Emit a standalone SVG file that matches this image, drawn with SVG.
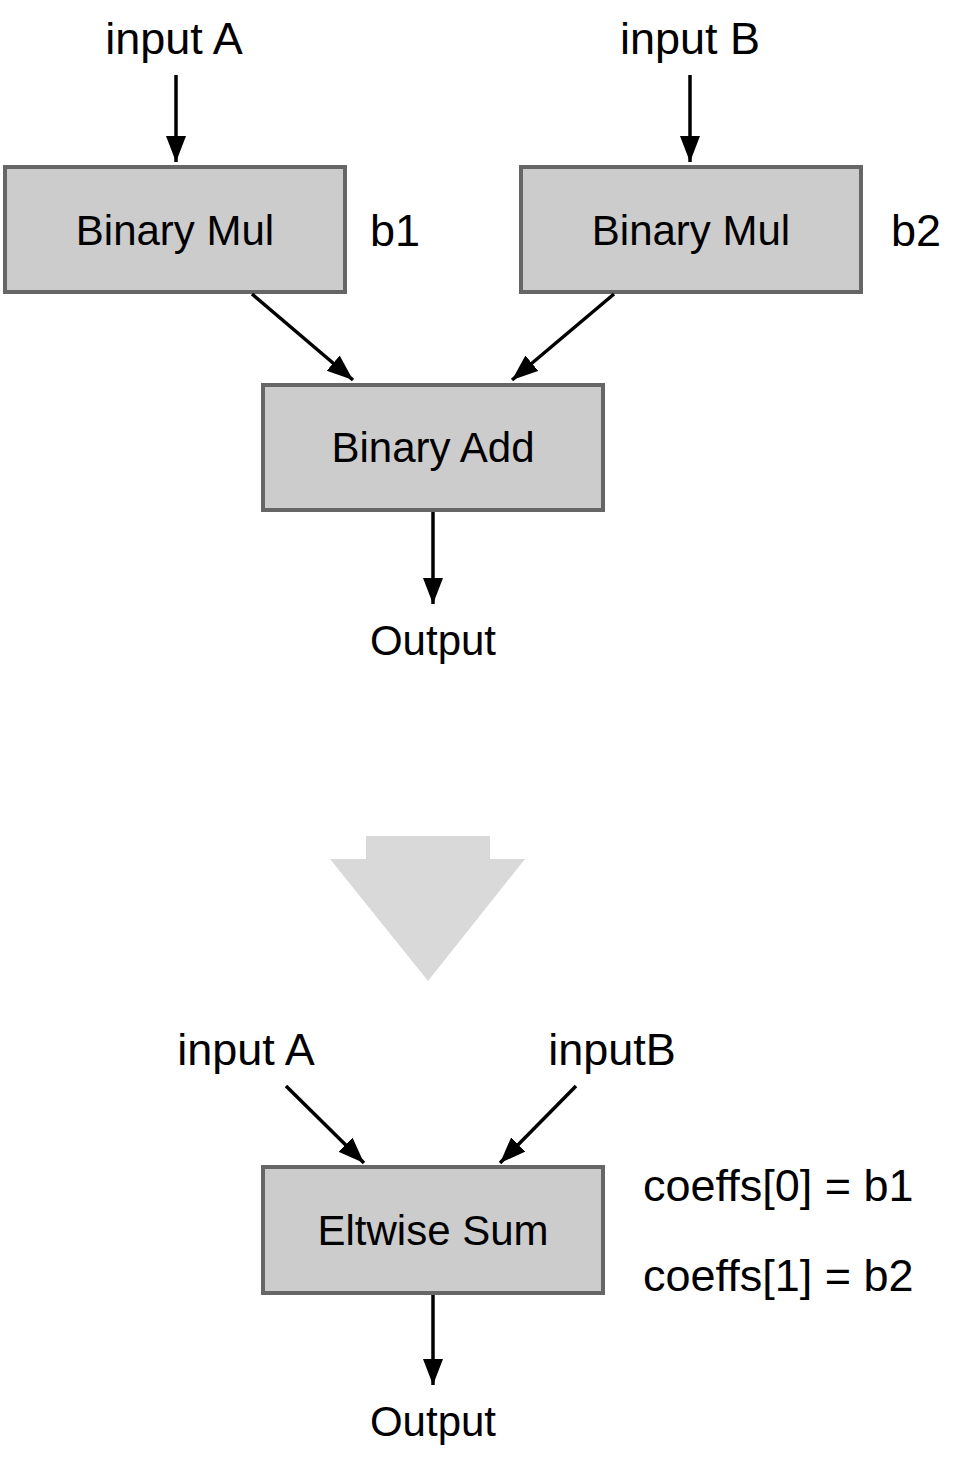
<svg xmlns="http://www.w3.org/2000/svg" width="954" height="1458" viewBox="0 0 954 1458">
<style>
.box{fill:#cccccc;stroke:#666666;stroke-width:4}
.t{font-family:"Liberation Sans",Arial,Helvetica,sans-serif;fill:#000}
.bt{font-size:42px}
.lt{font-size:45px}
.ot{font-size:42px}
.c{stroke:#000;stroke-width:3.5;fill:none;marker-end:url(#ah)}
</style>
<defs>
<marker id="ah" markerUnits="userSpaceOnUse" markerWidth="28" markerHeight="22" refX="26" refY="10" orient="auto">
<path d="M0,0 L26,10 L0,20 Z" fill="#000"/>
</marker>
</defs>
<rect width="954" height="1458" fill="#fff"/>
<g id="labels">
<text class="t lt" x="174" y="54" text-anchor="middle">input A</text>
<text class="t lt" x="690" y="54" text-anchor="middle">input B</text>
<text class="t lt" x="370" y="246">b1</text>
<text class="t lt" x="891" y="246">b2</text>
<text class="t ot" x="433" y="655" text-anchor="middle">Output</text>
<text class="t lt" x="246" y="1065" text-anchor="middle">input A</text>
<text class="t lt" x="612" y="1065" text-anchor="middle">inputB</text>
<text class="t lt" x="643" y="1201">coeffs[0] = b1</text>
<text class="t lt" x="643" y="1291">coeffs[1] = b2</text>
<text class="t ot" x="433" y="1436" text-anchor="middle">Output</text>
</g>
<g id="mul1">
<rect class="box" x="5" y="167" width="340" height="125"/>
<text class="t bt" x="175" y="245" text-anchor="middle">Binary Mul</text>
</g>
<g id="mul2">
<rect class="box" x="521" y="167" width="340" height="125"/>
<text class="t bt" x="691" y="245" text-anchor="middle">Binary Mul</text>
</g>
<g id="add">
<rect class="box" x="263" y="385" width="340" height="125"/>
<text class="t bt" x="433" y="462" text-anchor="middle">Binary Add</text>
</g>
<g id="eltwise">
<rect class="box" x="263" y="1167" width="340" height="126"/>
<text class="t bt" x="433" y="1245" text-anchor="middle">Eltwise Sum</text>
</g>
<g id="bigarrow">
<path d="M366,836 H490 V859 H525 L428,981 L330,859 H366 Z" fill="#d9d9d9"/>
</g>
<g id="connectors">
<line class="c" x1="176" y1="75" x2="176" y2="162"/>
<line class="c" x1="690" y1="75" x2="690" y2="162"/>
<line class="c" x1="252" y1="294" x2="353" y2="380"/>
<line class="c" x1="614" y1="294" x2="512" y2="380"/>
<line class="c" x1="433" y1="512" x2="433" y2="604"/>
<line class="c" x1="286" y1="1086" x2="364" y2="1163"/>
<line class="c" x1="576" y1="1086" x2="500" y2="1163"/>
<line class="c" x1="433" y1="1295" x2="433" y2="1385"/>
</g>
</svg>
